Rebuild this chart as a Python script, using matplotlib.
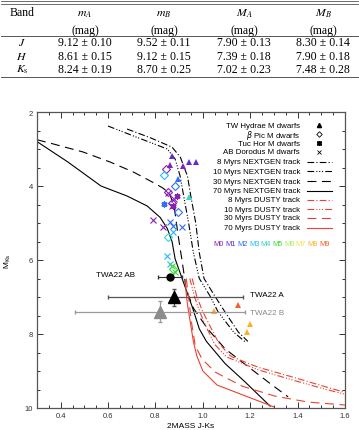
import matplotlib
matplotlib.use("Agg")
import matplotlib.pyplot as plt
from matplotlib.lines import Line2D
from matplotlib.ticker import MultipleLocator

# ---- table values (mag, err) ----
band_names = ["$J$", "$H$", "$K_{\\rm s}$"]
head_names = ["$m_A$", "$m_B$", "$M_A$", "$M_B$"]
m_a = [(9.12, 0.10), (8.61, 0.15), (8.24, 0.19)]
m_b = [(9.52, 0.11), (9.12, 0.15), (8.70, 0.25)]
abs_a = [(7.90, 0.13), (7.39, 0.18), (7.02, 0.23)]
abs_b = [(8.30, 0.14), (7.90, 0.18), (7.48, 0.28)]

# ---- young moving group M dwarfs (J-Ks, M_Ks, spectral subtype) ----
twa_jk = [0.869, 0.943, 0.972, 0.862, 0.915, 0.894, 0.940, 1.149, 1.048, 1.200, 1.187]
twa_mk = [3.18, 3.36, 3.36, 3.43, 3.45, 3.81, 4.31, 7.22, 7.38, 7.73, 7.95]
twa_spt = [1, 1, 1, 0, 0, 2, 4, 9, 8, 8, 8]

bpic_jk = [0.845, 0.837, 0.883, 0.855, 0.894, 0.855, 0.876, 0.870]
bpic_mk = [3.54, 3.70, 4.01, 4.17, 4.71, 5.39, 6.24, 4.45]
bpic_spt = [0, 3, 2, 0, 2, 4, 5, 0]

tuc_jk = [0.837, 0.876, 0.890]
tuc_mk = [4.49, 4.53, 4.26]
tuc_spt = [2, 0, 0]

abd_jk = [0.789, 0.831, 0.862, 0.876, 0.911, 0.876, 0.848, 0.862, 0.869, 0.883, 0.855, 0.869, 0.880]
abd_mk = [4.91, 5.12, 4.98, 5.09, 5.12, 5.25, 5.88, 6.11, 6.16, 6.32, 4.20, 4.53, 4.35]
abd_spt = [0, 0, 2, 2, 2, 3, 3, 3, 5, 5, 0, 0, 0]

spt_labels = ["M0", "M1", "M2", "M3", "M4", "M5", "M6", "M7", "M8", "M9"]
spt_colors = ["#8a1fb5", "#5a2fd8", "#2f6fff", "#22b8ff", "#2fd8c8",
              "#3fdc3f", "#9ff05a", "#f2e640", "#ffae2a", "#f5602a"]

# ---- TWA22 ----
twa22_names = ["TWA22 AB", "TWA22 A", "TWA22 B"]
twa22_jk = [0.86, 0.88, 0.82]
twa22_mk = [6.45, 7.01, 7.40]
twa22_xlo = [0.05, 0.28, 0.36]
twa22_xhi = [0.05, 0.29, 0.36]
twa22_yerr = [0.0, 0.23, 0.28]

# ---- evolutionary tracks ----
ng8_jk = [0.68, 0.78, 0.87, 0.905, 0.935, 0.95, 0.97, 0.985, 1.005, 1.05, 1.094, 1.15, 1.19]
ng8_mk = [2.46, 2.70, 2.95, 3.22, 3.73, 4.30, 5.00, 5.80, 6.50, 6.97, 7.41, 7.95, 8.20]
ng10_jk = [0.60, 0.72, 0.85, 0.883, 0.904, 0.92, 0.94, 0.96, 0.985, 1.03, 1.065, 1.13, 1.18]
ng10_mk = [2.38, 2.68, 3.00, 3.27, 3.73, 4.30, 5.00, 5.80, 6.50, 6.97, 7.41, 7.95, 8.22]
ng30_jk = [0.30, 0.355, 0.494, 0.608, 0.706, 0.777, 0.83, 0.86, 0.88, 0.896, 0.913, 0.93,
           0.96, 1.02, 1.094, 1.166, 1.276, 1.36]
ng30_mk = [2.75, 2.84, 3.08, 3.35, 3.62, 3.86, 4.05, 4.20, 4.60, 5.35, 6.05, 6.80,
           7.30, 7.86, 8.40, 8.76, 9.30, 9.70]
ng70_jk = [0.30, 0.43, 0.57, 0.68, 0.765, 0.82, 0.85, 0.87, 0.883, 0.913, 0.957, 0.985,
           1.015, 1.094, 1.179, 1.284]
ng70_mk = [2.80, 3.35, 4.00, 4.27, 4.54, 4.85, 5.15, 5.50, 5.97, 6.51, 7.30, 7.86,
           8.20, 8.80, 9.30, 9.95]

du8_jk = [0.955, 0.975, 1.00, 1.022, 1.065, 1.107, 1.124, 1.234, 1.377, 1.504, 1.60]
du8_mk = [6.50, 7.00, 7.40, 7.68, 8.22, 8.54, 8.62, 8.90, 9.16, 9.40, 9.58]
du10_jk = [0.945, 0.965, 0.99, 1.01, 1.05, 1.10, 1.234, 1.377, 1.504, 1.60]
du10_mk = [6.50, 7.00, 7.45, 7.75, 8.28, 8.62, 8.97, 9.24, 9.47, 9.63]
du30_jk = [0.93, 0.94, 0.95, 0.968, 0.997, 1.052, 1.166, 1.305, 1.445, 1.60]
du30_mk = [6.50, 7.00, 7.60, 8.32, 8.68, 9.03, 9.41, 9.68, 9.84, 9.92]
du70_jk = [0.925, 0.935, 0.95, 0.96, 0.975, 1.00, 1.06, 1.19, 1.30]
du70_mk = [6.60, 7.20, 7.80, 8.20, 8.60, 9.00, 9.38, 9.70, 9.97]

RED = "#ea4232"
ls_8 = (0, (6, 2, 1, 2))
ls_10 = (0, (6, 2, 1, 1.5, 1, 1.5, 1, 2))
ls_30 = (0, (8, 5))

plt.rcParams["font.family"] = ["Liberation Sans", "DejaVu Sans"]

fig = plt.figure(figsize=(3.59, 4.31), dpi=100)

# ---------------- table ----------------
W, H = 359.0, 431.0


def ftxt(px, py, s, **kw):
    fig.text(px / W, 1 - py / H, s, ha="center", va="center", fontsize=8.5,
             family="Liberation Serif", math_fontfamily="stix", **kw)


for py, lw in [(2, 0.6), (4.5, 0.6), (37, 0.7), (77.5, 0.7)]:
    fig.add_artist(Line2D([0.003, 0.997], [1 - py / H] * 2, transform=fig.transFigure,
                          color="#555555", lw=lw))

col_x = [85, 164, 244, 323]
ftxt(22, 13, "Band")
for cx, hd in zip(col_x, head_names):
    ftxt(cx, 14, hd)
    ftxt(cx, 31, "(mag)")
row_y = [43, 57, 70]
for i, ry in enumerate(row_y):
    ftxt(22, ry, band_names[i])
    for cx, col in zip(col_x, [m_a, m_b, abs_a, abs_b]):
        v, e = col[i]
        ftxt(cx, ry, f"{v:.2f} ± {e:.2f}")

# ---------------- CMD ----------------
ax = fig.add_axes([37 / W, 22 / H, 308 / W, 296 / H])

kw = dict(color="black", lw=0.8)
ax.plot(ng8_jk, ng8_mk, ls=ls_8, **kw)
ax.plot(ng10_jk, ng10_mk, ls=ls_10, **kw)
ax.plot(ng30_jk, ng30_mk, ls=ls_30, **kw)
ax.plot(ng70_jk, ng70_mk, ls="-", **kw)
kw = dict(color=RED, lw=0.8)
ax.plot(du8_jk, du8_mk, ls=ls_8, **kw)
ax.plot(du10_jk, du10_mk, ls=ls_10, **kw)
ax.plot(du30_jk, du30_mk, ls=ls_30, **kw)
ax.plot(du70_jk, du70_mk, ls="-", **kw)

for x, y, s in zip(abd_jk, abd_mk, abd_spt):
    ax.plot(x, y, marker="x", ms=5, mew=0.8, color=spt_colors[s], ls="none")
for x, y, s in zip(bpic_jk, bpic_mk, bpic_spt):
    ax.plot(x, y, marker="D", ms=4, mew=0.8, mfc="none", mec=spt_colors[s], ls="none")
for x, y, s in zip(tuc_jk, tuc_mk, tuc_spt):
    ax.plot(x, y, marker="s", ms=3.5, mew=0.7, mfc="none", mec=spt_colors[s], ls="none")
    ax.plot(x, y, marker=(6, 2, 0), ms=4.5, mew=0.8, color=spt_colors[s], ls="none")
for x, y, s in zip(twa_jk, twa_mk, twa_spt):
    ax.plot(x, y, marker="^", ms=4.2, mew=0, color=spt_colors[s], ls="none")

# TWA22
ax.errorbar(twa22_jk[0], twa22_mk[0], xerr=[[twa22_xlo[0]], [twa22_xhi[0]]],
            fmt="o", ms=5, color="black", ecolor="#333333", elinewidth=0.8, capsize=1.5)
ax.errorbar(twa22_jk[1], twa22_mk[1], xerr=[[twa22_xlo[1]], [twa22_xhi[1]]],
            yerr=twa22_yerr[1], fmt="^", ms=9, color="black", ecolor="#555555",
            elinewidth=0.9, capsize=1.5)
ax.errorbar(twa22_jk[2], twa22_mk[2], xerr=[[twa22_xlo[2]], [twa22_xhi[2]]],
            yerr=twa22_yerr[2], fmt="^", ms=9, color="#8c8c8c", ecolor="#9a9a9a",
            elinewidth=0.9, capsize=1.5)
ax.text(0.63, 6.38, twa22_names[0], fontsize=5.8, ha="center", va="center")
ax.text(1.20, 6.93, twa22_names[1], fontsize=5.8, ha="left", va="center")
ax.text(1.20, 7.42, twa22_names[2], fontsize=5.8, ha="left", va="center", color="#888888")

ax.set_xlim(0.3, 1.6)
ax.set_ylim(10, 2)
ax.xaxis.set_major_locator(MultipleLocator(0.2))
ax.xaxis.set_minor_locator(MultipleLocator(0.05))
ax.yaxis.set_major_locator(MultipleLocator(2))
ax.yaxis.set_minor_locator(MultipleLocator(0.5))
ax.tick_params(which="both", direction="in", top=True, right=True, labelsize=5.5,
               colors="#333333", width=0.7, pad=3)
ax.tick_params(which="major", length=4.5)
ax.tick_params(which="minor", length=2.5)
ax.set_xticks([0.4, 0.6, 0.8, 1.0, 1.2, 1.4, 1.6])
for sp in ax.spines.values():
    sp.set_color("#555555")
    sp.set_linewidth(0.9)
ax.set_xlabel("2MASS J-Ks", fontsize=6, labelpad=2)
ax.set_ylabel("M$_{\\rm Ks}$", fontsize=6, labelpad=8)

# legend drawn by hand
leg_labels = ["TW Hydrae M dwarfs", "$\\beta$ Pic M dwarfs", "Tuc Hor M dwarfs",
              "AB Dorodus M dwarfs",
              "8 Myrs NEXTGEN track", "10 Myrs NEXTGEN track",
              "30 Myrs NEXTGEN track", "70 Myrs NEXTGEN track",
              "8 Myrs DUSTY track", "10 Myrs DUSTY track",
              "30 Myrs DUSTY track", "70 Myrs DUSTY track"]
leg_py = [126, 135, 144, 153, 163, 172, 182, 192, 201, 210, 219, 229]
tr = ax.transAxes


def ay(py):
    return (409 - py) / 296.0


for lab, py in zip(leg_labels, leg_py):
    ax.text(0.854, ay(py), lab, transform=tr, fontsize=5.7, ha="right", va="center")
ax.plot([0.916], [ay(126)], marker="^", ms=3, color="black", transform=tr)
ax.plot([0.916], [ay(135)], marker="D", ms=2.8, mfc="none", mec="black", mew=0.6,
        transform=tr)
ax.plot([0.916], [ay(144)], marker="s", ms=2.8, mfc="none", mec="black", mew=0.6,
        transform=tr)
ax.plot([0.916], [ay(144)], marker=(6, 2, 0), ms=3.5, color="black", mew=0.6,
        transform=tr)
ax.plot([0.916], [ay(153)], marker="x", ms=3.5, color="black", mew=0.6, transform=tr)
line_styles = [ls_8, ls_10, ls_30, "-"]
for i in range(8):
    c = "black" if i < 4 else RED
    ax.plot([0.877, 0.958], [ay(leg_py[4 + i])] * 2, color=c, lw=0.8,
            ls=line_styles[i % 4], transform=tr)

for i, (lab, c) in enumerate(zip(spt_labels, spt_colors)):
    ax.text((219 + i * 11.7 - 37) / 308.0, ay(245), lab, transform=tr, fontsize=5.3,
            ha="center", va="center", color=c)

fig.savefig("out.png", dpi=100)
